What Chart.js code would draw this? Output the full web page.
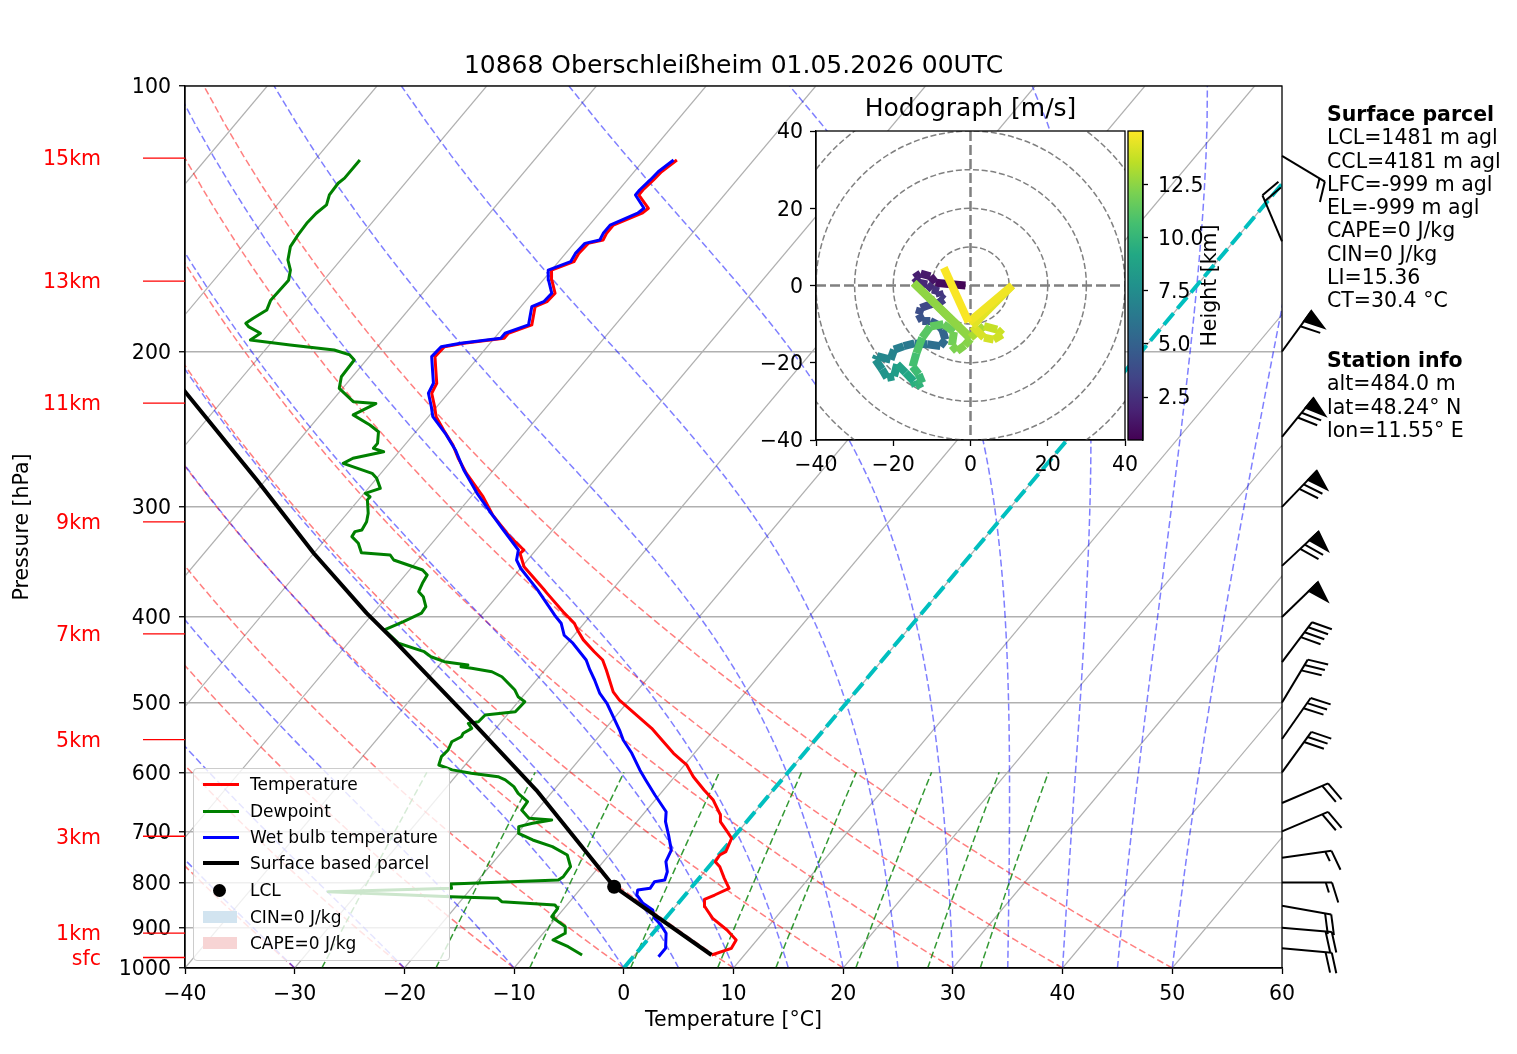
<!DOCTYPE html>
<html lang="de">
<head>
<meta charset="utf-8">
<title>Skew-T 10868 Oberschleißheim</title>
<script src="https://cdn.jsdelivr.net/npm/chart.js@4.4.1/dist/chart.umd.min.js"></script>
<style>
html,body{margin:0;padding:0;background:#fff;}
#wrap{position:relative;width:1517px;height:1054px;overflow:hidden;background:#fff;font-family:"DejaVu Sans",sans-serif;color:#000;}
#wrap canvas{position:absolute;left:0;top:0;width:1517px;height:1054px;}
#main{z-index:1}#hodo{z-index:2}#cbar{z-index:3}
.abs{position:absolute;white-space:nowrap;}
#title{left:185px;width:1097px;top:50px;text-align:center;font-size:25px;line-height:30px;z-index:5;}
.side{left:1327px;font-size:20.5px;line-height:23.3px;z-index:5;}
#legend{left:193px;top:768px;width:255px;height:191px;background:rgba(255,255,255,0.8);border:1px solid #cccccc;border-radius:4px;z-index:4;font-size:17px;}
#legend .row{position:absolute;left:0;width:100%;height:0;}
#legend .ln{position:absolute;left:9px;width:36px;height:3px;top:-1.5px;}
#legend .lbl{position:absolute;left:56px;top:-10px;line-height:20px;white-space:nowrap;}
#legend .dot{position:absolute;left:19px;top:-6.5px;width:13px;height:13px;border-radius:50%;background:#000;}
#legend .patch{position:absolute;left:9px;top:-6px;width:34px;height:12px;}
</style>
</head>
<body>
<div id="wrap">
<canvas id="main" width="1517" height="1054"></canvas>
<canvas id="hodo" width="1517" height="1054"></canvas>
<canvas id="cbar" width="1517" height="1054"></canvas>
<div id="title" class="abs">10868 Oberschleißheim 01.05.2026 00UTC</div>
<div class="abs side" style="top:103px;"><b>Surface parcel</b><br>LCL=1481 m agl<br>CCL=4181 m agl<br>LFC=-999 m agl<br>EL=-999 m agl<br>CAPE=0 J/kg<br>CIN=0 J/kg<br>LI=15.36<br>CT=30.4 °C</div>
<div class="abs side" style="top:349px;"><b>Station info</b><br>alt=484.0 m<br>lat=48.24° N<br>lon=11.55° E</div>
<div id="legend" class="abs">
  <div class="row" style="top:15px"><div class="ln" style="background:#ff0000"></div><div class="lbl">Temperature</div></div>
  <div class="row" style="top:42px"><div class="ln" style="background:#008000"></div><div class="lbl">Dewpoint</div></div>
  <div class="row" style="top:68px"><div class="ln" style="background:#0000ff"></div><div class="lbl">Wet bulb temperature</div></div>
  <div class="row" style="top:94px"><div class="ln" style="background:#000;height:4px;top:-2px"></div><div class="lbl">Surface based parcel</div></div>
  <div class="row" style="top:121px"><div class="dot"></div><div class="lbl">LCL</div></div>
  <div class="row" style="top:148px"><div class="patch" style="background:#d2e4f0"></div><div class="lbl">CIN=0 J/kg</div></div>
  <div class="row" style="top:174px"><div class="patch" style="background:#f7d4d4"></div><div class="lbl">CAPE=0 J/kg</div></div>
</div>
</div>
<script>
// ================= DATA =================
const TEMP_P=[966.6,949.9,929.5,905.6,878.3,852.2,835.9,826.5,812.2,791.3,
767.7,757.6,744.5,738.1,712.7,700.6,682.4,670.7,645.0,628.4,
606.9,588.6,583.6,570.9,554.0,534.9,516.6,496.9,486.3,459.3,
447.5,437.9,424.6,413.7,406.5,394.5,375.8,372.6,350.8,338.7,
335.8,324.3,306.6,292.2,274.9,264.3,255.3,245.5,237.1,231.0,
223.0,217.3,209.9,202.7,197.5,195.7,193.2,190.7,186.6,177.9,
175.6,171.8,166.0,161.7,158.2,154.8,150.8,149.5,146.9,143.8,
139.4,137.6,132.9,131.2,127.8,125.1,121.3];
const TEMP_C=[7.0,8.3,8.1,6.5,4.3,2.7,2.1,2.7,3.5,2.3,
1.0,0.2,0.1,0.4,-0.1,-1.0,-2.4,-2.9,-4.7,-6.3,
-8.3,-9.8,-10.4,-11.9,-13.7,-15.8,-18.2,-20.9,-22.1,-24.4,
-25.5,-26.9,-28.8,-30.1,-30.9,-32.8,-35.7,-36.2,-39.8,-41.2,
-41.1,-43.4,-46.6,-48.9,-52.2,-54.1,-55.6,-57.6,-59.3,-60.2,
-61.5,-61.8,-62.9,-64.0,-63.9,-62.4,-59.1,-59.1,-57.6,-58.7,
-58.0,-57.9,-59.2,-60.0,-58.6,-58.8,-58.7,-57.6,-57.8,-57.8,
-56.1,-55.9,-57.8,-57.8,-57.6,-57.5,-57.0];

const DEW_P=[966.6,945.9,929.5,913.4,897.7,886.1,874.6,855.6,848.3,841.0,
833.6,830.1,819.3,812.2,803.2,794.8,788.0,767.7,744.5,728.5,
715.9,703.5,691.4,685.3,679.5,676.5,662.1,647.8,633.8,622.9,
612.0,606.9,601.6,596.2,588.6,575.9,566.0,554.0,546.8,541.9,
534.9,528.0,525.7,516.6,512.2,499.0,492.5,484.0,467.5,461.4,
457.3,455.4,453.4,449.5,443.7,437.9,428.3,413.7,404.8,396.0,
389.3,379.3,374.4,366.3,358.4,353.8,344.7,340.2,338.2,330.0,
324.3,320.1,318.7,311.9,305.1,294.6,292.2,289.6,285.9,278.5,
274.9,267.8,264.3,259.8,257.5,254.2,246.6,242.3,236.0,229.1,
228.0,220.2,213.6,204.5,201.8,199.2,196.6,194.1,190.7,187.4,
185.8,183.4,179.5,174.9,166.0,161.7,157.5,152.1,147.5,143.1,
139.4,136.4,132.9,128.9,127.2,121.3];
const DEW_C=[-4.8,-6.7,-8.6,-8.0,-8.5,-9.5,-10.5,-10.6,-11.1,-16.2,
-16.8,-21.2,-32.8,-21.8,-22.2,-12.7,-12.5,-12.6,-13.8,-15.8,
-18.1,-19.9,-20.4,-19.4,-17.9,-20.1,-21.4,-21.5,-23.0,-23.9,
-25.2,-26.1,-28.8,-30.8,-32.4,-32.8,-32.7,-33.0,-32.5,-32.6,
-32.2,-32.9,-32.1,-32.0,-29.5,-29.4,-30.4,-31.2,-33.4,-34.7,
-36.8,-37.9,-37.4,-39.8,-41.4,-42.4,-45.4,-47.7,-46.6,-45.6,
-45.7,-46.7,-47.5,-47.8,-48.0,-48.8,-52.2,-52.9,-55.7,-56.7,
-57.8,-57.9,-57.4,-57.6,-58.1,-59.2,-59.2,-59.9,-58.9,-60.0,
-60.8,-64.2,-63.7,-61.4,-62.6,-62.6,-63.4,-64.7,-67.0,-65.8,
-68.0,-70.3,-71.0,-71.1,-71.9,-73.7,-78.1,-82.1,-81.7,-83.3,
-83.8,-83.5,-82.9,-83.3,-83.2,-83.8,-84.8,-85.6,-85.8,-85.9,
-85.8,-85.5,-86.0,-86.1,-85.9,-85.9];

const WB_P=[970.9,949.9,913.4,893.9,878.3,859.5,844.6,826.5,815.8,812.2,
798.3,794.8,777.8,757.6,734.9,706.6,682.4,665.0,636.6,612.0,
596.2,570.9,551.5,537.3,514.3,501.0,488.3,471.5,459.3,447.5,
428.3,419.5,406.5,398.1,372.6,352.2,344.7,335.8,318.7,303.9,
289.6,272.5,258.6,247.6,
237.1,231.0,223.0,217.3,209.9,202.7,
197.5,195.7,193.2,190.7,186.6,177.9,175.6,171.8,166.0,161.7,
158.2,154.8,150.8,149.5,146.9,143.8,139.4,137.6,132.9,131.2,
127.8,125.1,121.3];
const WB_C=[2.3,2.3,1.2,0.1,-1.0,-1.8,-3.2,-4.4,-4.7,-3.7,
-3.8,-3.0,-3.4,-4.3,-4.7,-6.1,-7.4,-8.1,-10.4,-12.4,
-13.7,-15.7,-17.5,-18.6,-20.6,-21.8,-23.2,-24.7,-25.9,-27.0,
-29.5,-30.9,-32.1,-33.3,-36.8,-40.0,-41.0,-41.6,-44.5,-47.1,
-49.7,-52.7,-55.0,-57.2,
-59.6,-60.5,-61.8,-62.1,-63.2,-64.3,
-64.2,-62.7,-59.4,-59.4,-57.9,-59.0,-58.3,-58.2,-59.5,-60.3,
-58.9,-59.1,-59.0,-57.9,-58.1,-58.1,-56.5,-56.3,-58.1,-58.1,
-57.9,-57.8,-57.3];

const PARCEL_P=[966.6,808.8,628.4,528.0,424.6,396.0,338.7,279.7,222.1,200.0];
const PARCEL_C=[7.0,-7.1,-21.6,-32.4,-46.1,-50.6,-60.0,-70.8,-84.1,-90.2];
const LCL_P=[808.8];
const LCL_C=[-7.1];

const P_TICKS=[100,200,300,400,500,600,700,800,900,1000];
const ISOTHERMS=[-100,-90,-80,-70,-60,-50,-40,-30,-20,-10,0,10,20,30,40,50,60];
const DRY_T0=[-40,-30,-20,-10,0,10,20,30,40,50];
const MOIST_T0=[-40,-30,-20,-10,0,5,10,15,20,25,30,35,40,45,50];
const MIX_W=[0.0004,0.001,0.002,0.004,0.007,0.01,0.016,0.024,0.032];

const HGT_P=[120.7,166.4,228.8,312.1,418.0,551.0,709.0,913.0,973.0];
const HGT_LBL=["15km","13km","11km","9km","7km","5km","3km","1km","sfc"];

const BARB_P=[950,900,850,800,750,700,650,600,550,500,450,400,350,300,250,200,150,120];
const BARB_DIR=[95,95,100,90,82,67,67,36,35,31,37,46,47,44,39,36,337,121];
const BARB_SPD=[20,20,20,15,15,20,20,30,30,30,40,50,70,70,70,60,20,15];

const HODO_U=[-1.3,-5,-9.1,-10.4,-12.9,-14.5,-13.4,-11.2,-9.9,-8.2,-7.8,-6.9,-8.2,-10.4,-12.9,-13.4,-12.5,-10.4,-8.6,-7.3,
-6.5,-7.8,-11.2,-14.5,-17.3,-19.8,-20.7,-24.2,-24.6,-22.9,-21.6,-19.8,-19,-16.8,-14.7,-14.2,-12.5,-13.4,-15,-14,
-12.5,-10.4,-7,-4.3,-4.8,-3.5,-1.5,0,-14.7,0,3.5,6.9,8.2,6.0,3.5,0.5,10.8,-0.5,-6.9];
const HODO_V=[0,0.3,0.7,2.4,3.1,2.0,0.7,0.3,-1.0,-1.5,-2.8,-3.6,-4.5,-4.9,-5.8,-7.5,-9.2,-9.2,-10.1,-11.4,
-14.0,-15.7,-15.2,-15.0,-15.7,-16.6,-19.2,-18.3,-19.2,-21.7,-23.9,-23.5,-20.4,-22.6,-24.8,-26.1,-25.2,-23.0,-21,-17.5,
-13.5,-10.6,-10,-12,-15.5,-17,-15.5,-13.8,0.7,-13.5,-10.5,-11.4,-12.7,-14.0,-13.5,-10.5,0,-9.5,4.6];
const HODO_H=[0.5,0.8,1.1,1.4,1.6,1.8,2.0,2.2,2.4,2.6,2.8,3.0,3.2,3.5,3.8,4.0,4.3,4.5,4.8,5.0,
5.3,5.6,5.9,6.2,6.5,6.8,7.0,7.3,7.5,7.8,8.1,8.3,8.6,9.0,9.4,9.7,10.0,10.3,10.5,10.8,
11.1,11.3,11.5,11.7,12.0,12.2,12.3,12.4,12.5,12.6,13.6,13.8,13.9,14.0,14.1,14.2,14.6,14.8,15.0];
const RINGS=[10,20,30,40,50];
const HODO_TICKS=[-40,-20,0,20,40];
const CB_TICKS=[2.5,5,7.5,10,12.5];
const H_MIN=0.48, H_MAX=15.0;
const VIRIDIS=['#440154','#482475','#414487','#355f8d','#2a788e','#21918c','#22a884','#44bf70','#7ad151','#bddf26','#fde725'];

// ================= HELPERS =================
const SK=67.5; // skew: degC shift per decade of pressure
const sx=(T,p)=>T+SK*Math.log10(1000/p);
function prof(P,C){const n=Math.min(P.length,C.length);const o=[];for(let i=0;i<n;i++)o.push({x:sx(C[i],P[i]),y:P[i]});return o;}
const minus=v=>(v<0?'\u2212'+Math.abs(v):String(v));
function hex(h){return [parseInt(h.slice(1,3),16),parseInt(h.slice(3,5),16),parseInt(h.slice(5,7),16)];}
function cmap(t){t=Math.max(0,Math.min(1,t));const n=VIRIDIS.length-1;const i=Math.min(n-1,Math.floor(t*n));const f=t*n-i;
  const a=hex(VIRIDIS[i]),b=hex(VIRIDIS[i+1]);return 'rgb('+a.map((v,k)=>Math.round(v+(b[k]-v)*f)).join(',')+')';}
function L(data,color,width,dash,order,extra){
  return Object.assign({data,borderColor:color,backgroundColor:color,borderWidth:width,borderDash:dash||[],
    pointRadius:0,pointHoverRadius:0,showLine:true,fill:false,tension:0,order,borderJoinStyle:'round',borderCapStyle:'butt'},extra||{});
}
// thermodynamic reference lines (chart furniture)
const Rd=287.04749,Cp=1004.6662,Lv=2.50084e6,EPS=0.6219569,KAP=Rd/Cp;
function esat(Tk){const tc=Tk-273.15;return 6.112*Math.exp(17.67*tc/(tc+243.5));}
function dTdp(p,Tk){const e=esat(Tk);const rs=EPS*e/(p-e);return (Rd*Tk+Lv*rs)/(Cp+Lv*Lv*rs*EPS/(Rd*Tk*Tk))/p;}
function dryCurve(t0){const o=[];for(let p=1000;p>=100;p-=10){const T=(t0+273.15)*Math.pow(p/1000,KAP)-273.15;o.push({x:sx(T,p),y:p});}return o;}
function moistCurve(t0){const o=[];let T=t0+273.15,p=1000;o.push({x:sx(T-273.15,p),y:p});const h=-2;
  while(p>100.001){for(let k=0;k<5;k++){const k1=dTdp(p,T),k2=dTdp(p+h/2,T+h/2*k1),k3=dTdp(p+h/2,T+h/2*k2),k4=dTdp(p+h,T+h*k3);
    T+=h/6*(k1+2*k2+2*k3+k4);p+=h;}p=Math.round(p*1000)/1000;o.push({x:sx(T-273.15,p),y:p});}return o;}
function mixCurve(w){const o=[];for(let p=1000;p>=600;p-=10){const e=p*w/(EPS+w);const g=Math.log(e/6.112);const Td=243.5*g/(17.67-g);o.push({x:sx(Td,p),y:p});}return o;}

Chart.defaults.font.family='"DejaVu Sans", sans-serif';
Chart.defaults.font.size=20.5;
Chart.defaults.color='#000';

// ================= MAIN SKEW-T =================
const ds=[];
ISOTHERMS.forEach(t=>ds.push(L([{x:sx(t,1000),y:1000},{x:sx(t,100),y:100}],'#b0b0b0',1.2,[],60)));
DRY_T0.forEach(t=>ds.push(L(dryCurve(t),'rgba(255,0,0,0.5)',1.5,[7,3.3],50)));
MOIST_T0.forEach(t=>ds.push(L(moistCurve(t),'rgba(0,0,255,0.5)',1.5,[7,3.3],45)));
MIX_W.forEach(w=>ds.push(L(mixCurve(w),'rgba(0,128,0,0.8)',1.5,[7,3.3],40)));
ds.push(L([{x:sx(0,1000),y:1000},{x:sx(0,100),y:100}],'#00bfbf',4,[15,6],30));
ds.push(L(prof(DEW_P,DEW_C),'#008000',3,[],4));
ds.push(L(prof(TEMP_P,TEMP_C),'#ff0000',3,[],3));
ds.push(L(prof(WB_P,WB_C),'#0000ff',3,[],2));
ds.push(L(prof(PARCEL_P,PARCEL_C),'#000000',4,[],1));
ds.push({data:prof(LCL_P,LCL_C),showLine:false,pointRadius:7,pointHoverRadius:7,pointBackgroundColor:'#000',pointBorderColor:'#000',pointBorderWidth:0,order:0});

function drawBarb(ctx,x0,y0,dir,spdIn){
  const a=dir*Math.PI/180, ux=Math.sin(a), uy=-Math.cos(a), px=-uy, py=ux;
  const Ls=50, fh=0.4*Ls, fw=0.25*Ls, sp=0.125*Ls;
  const P=(o,q)=>[x0+ux*o+px*q, y0+uy*o+py*q];
  let spd=Math.round(spdIn/5)*5;
  const nf=Math.floor(spd/50); spd-=nf*50; const nb=Math.floor(spd/10); spd-=nb*10; const nh=spd>=5?1:0;
  ctx.beginPath();ctx.moveTo(...P(0,0));ctx.lineTo(...P(Ls,0));ctx.stroke();
  let off=Ls;
  for(let k=0;k<nf;k++){if(off!==Ls)off+=sp/2;ctx.beginPath();ctx.moveTo(...P(off,0));ctx.lineTo(...P(off-fw/2,fh));ctx.lineTo(...P(off-fw,0));ctx.closePath();ctx.fill();ctx.stroke();off-=fw+sp;}
  for(let k=0;k<nb;k++){ctx.beginPath();ctx.moveTo(...P(off,0));ctx.lineTo(...P(off+fw/2,fh));ctx.stroke();off-=sp;}
  if(nh){if(off===Ls)off-=1.5*sp;ctx.beginPath();ctx.moveTo(...P(off,0));ctx.lineTo(...P(off+fw/4,fh/2));ctx.stroke();}
}

const mainPlugin={id:'skewExtras',afterDraw(chart){
  const ctx=chart.ctx,a=chart.chartArea,ys=chart.scales.y;
  ctx.save();
  ctx.strokeStyle='#000';ctx.lineWidth=1.3;ctx.setLineDash([]);
  ctx.strokeRect(a.left,a.top,a.right-a.left,a.bottom-a.top);
  // height labels
  ctx.font='20.5px "DejaVu Sans"';ctx.fillStyle='#ff0000';ctx.strokeStyle='#ff0000';ctx.textAlign='right';ctx.textBaseline='middle';
  HGT_P.forEach((p,i)=>{const y=ys.getPixelForValue(p);ctx.lineWidth=1.3;ctx.beginPath();ctx.moveTo(a.left-42,y);ctx.lineTo(a.left,y);ctx.stroke();ctx.fillText(HGT_LBL[i],a.left-84,y+2);});
  // wind barbs
  ctx.strokeStyle='#000';ctx.fillStyle='#000';ctx.lineWidth=2;ctx.lineJoin='miter';ctx.lineCap='butt';
  BARB_P.forEach((p,i)=>drawBarb(ctx,a.right,ys.getPixelForValue(p),BARB_DIR[i],BARB_SPD[i]));
  ctx.restore();
}};

new Chart(document.getElementById('main'),{
  type:'scatter',
  data:{datasets:ds},
  options:{responsive:false,animation:false,devicePixelRatio:1,events:[],
    layout:{padding:{left:0,top:86,right:235,bottom:0}},
    plugins:{legend:{display:false},tooltip:{enabled:false},title:{display:false}},
    scales:{
      x:{type:'linear',min:-40,max:60,
        ticks:{stepSize:10,padding:8,maxRotation:0,autoSkip:false,callback:v=>minus(v)},
        grid:{drawOnChartArea:false,drawTicks:true,tickLength:6,tickColor:'#000',tickWidth:1.3},
        border:{display:true,color:'#000',width:1.3},
        title:{display:true,text:'Temperature [°C]',padding:21},
        afterFit:s=>{s.height=86;}},
      y:{type:'logarithmic',min:100,max:1000,reverse:true,
        afterBuildTicks:s=>{s.ticks=P_TICKS.map(v=>({value:v}));},
        ticks:{padding:8,autoSkip:false,labelOffset:2,callback:v=>String(v)},
        grid:{color:'#b0b0b0',lineWidth:1.5,drawTicks:true,tickLength:6,tickColor:'#000',tickWidth:1.3},
        border:{display:true,color:'#000',width:1.3},
        title:{display:true,text:'Pressure [hPa]',padding:{top:10,bottom:0}},
        afterFit:s=>{s.width=185;}}
    }},
  plugins:[mainPlugin]
});

// ================= HODOGRAPH =================
const hodoPlugin={id:'hodoExtras',
  beforeDraw(chart){const {ctx,chartArea:a}=chart;ctx.save();ctx.fillStyle='#fff';ctx.fillRect(a.left,a.top,a.right-a.left,a.bottom-a.top);ctx.restore();},
  beforeDatasetsDraw(chart){const {ctx,chartArea:a,scales}=chart;const x=scales.x,y=scales.y;
    ctx.save();ctx.beginPath();ctx.rect(a.left,a.top,a.right-a.left,a.bottom-a.top);ctx.clip();
    const cx=x.getPixelForValue(0),cy=y.getPixelForValue(0);
    ctx.strokeStyle='#808080';ctx.lineWidth=1.5;ctx.setLineDash([6,2.7]);
    RINGS.forEach(r=>{const rp=x.getPixelForValue(r)-cx;ctx.beginPath();ctx.arc(cx,cy,rp,0,2*Math.PI);ctx.stroke();});
    ctx.lineWidth=2.5;ctx.setLineDash([10,4]);
    ctx.beginPath();ctx.moveTo(a.left,cy);ctx.lineTo(a.right,cy);ctx.moveTo(cx,a.top);ctx.lineTo(cx,a.bottom);ctx.stroke();
    ctx.restore();},
  afterDraw(chart){const {ctx,chartArea:a}=chart;ctx.save();ctx.strokeStyle='#000';ctx.lineWidth=1.3;
    ctx.strokeRect(a.left,a.top,a.right-a.left,a.bottom-a.top);
    ctx.fillStyle='#000';ctx.font='25px "DejaVu Sans"';ctx.textAlign='center';ctx.textBaseline='middle';
    ctx.fillText('Hodograph [m/s]',(a.left+a.right)/2,a.top-22);ctx.restore();}
};
const hodoPts=HODO_U.map((u,i)=>({x:u,y:HODO_V[i]}));
new Chart(document.getElementById('hodo'),{
  type:'scatter',
  data:{datasets:[{data:hodoPts,showLine:true,borderWidth:8,pointRadius:0,pointHoverRadius:0,borderColor:VIRIDIS[0],
    borderCapStyle:'butt',borderJoinStyle:'round',tension:0,
    segment:{borderColor:c=>cmap(((HODO_H[c.p0DataIndex]+HODO_H[c.p1DataIndex])/2-H_MIN)/(H_MAX-H_MIN))}}]},
  options:{responsive:false,animation:false,devicePixelRatio:1,events:[],
    layout:{padding:{left:756,top:131,right:392,bottom:574}},
    plugins:{legend:{display:false},tooltip:{enabled:false}},
    scales:{
      x:{type:'linear',min:-40,max:40,afterBuildTicks:s=>{s.ticks=HODO_TICKS.map(v=>({value:v}));},
        ticks:{padding:7,maxRotation:0,autoSkip:false,callback:v=>minus(v)},
        grid:{drawOnChartArea:false,drawTicks:true,tickLength:6,tickColor:'#000',tickWidth:1.3},
        border:{display:true,color:'#000',width:1.3},afterFit:s=>{s.height=40;}},
      y:{type:'linear',min:-40,max:40,afterBuildTicks:s=>{s.ticks=HODO_TICKS.map(v=>({value:v}));},
        ticks:{padding:7,autoSkip:false,labelOffset:2,callback:v=>minus(v)},
        grid:{drawOnChartArea:false,drawTicks:true,tickLength:6,tickColor:'#000',tickWidth:1.3},
        border:{display:true,color:'#000',width:1.3},afterFit:s=>{s.width=60;}}
    }},
  plugins:[hodoPlugin]
});

// ================= COLORBAR =================
const cbarPlugin={id:'cbarExtras',
  beforeDraw(chart){const {ctx,chartArea:a}=chart;ctx.save();const g=ctx.createLinearGradient(0,a.bottom,0,a.top);
    VIRIDIS.forEach((c,i)=>g.addColorStop(i/(VIRIDIS.length-1),c));ctx.fillStyle=g;ctx.fillRect(a.left,a.top,a.right-a.left,a.bottom-a.top);ctx.restore();},
  afterDraw(chart){const {ctx,chartArea:a}=chart;ctx.save();ctx.strokeStyle='#000';ctx.lineWidth=1.3;
    ctx.strokeRect(a.left,a.top,a.right-a.left,a.bottom-a.top);
    ctx.translate(a.right+68,(a.top+a.bottom)/2);ctx.rotate(-Math.PI/2);ctx.fillStyle='#000';ctx.font='20.5px "DejaVu Sans"';
    ctx.textAlign='center';ctx.textBaseline='middle';ctx.fillText('Height [km]',0,0);ctx.restore();}
};
new Chart(document.getElementById('cbar'),{
  type:'scatter',
  data:{datasets:[{data:[]}]},
  options:{responsive:false,animation:false,devicePixelRatio:1,events:[],
    layout:{padding:{left:1128,top:131,right:314,bottom:614}},
    plugins:{legend:{display:false},tooltip:{enabled:false}},
    scales:{
      x:{display:false,min:0,max:1},
      y:{position:'right',min:H_MIN,max:H_MAX,afterBuildTicks:s=>{s.ticks=CB_TICKS.map(v=>({value:v}));},
        ticks:{padding:10,autoSkip:false,labelOffset:2,callback:v=>Number(v).toFixed(1)},
        grid:{drawOnChartArea:false,drawTicks:true,tickLength:5,tickColor:'#000',tickWidth:1.3},
        border:{display:true,color:'#000',width:1.3},afterFit:s=>{s.width=60;}}
    }},
  plugins:[cbarPlugin]
});
</script>
</body>
</html>
